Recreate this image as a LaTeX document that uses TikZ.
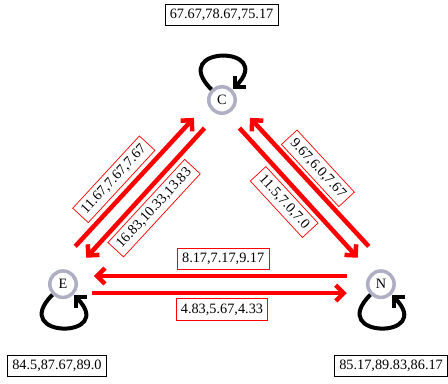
\documentclass[tikz,border=0pt]{standalone}
\usepackage{fontspec}
\setmainfont{Liberation Serif}
\usetikzlibrary{arrows.meta,calc,positioning}
\definecolor{stategray}{RGB}{175,175,195}

\begin{document}
\begin{tikzpicture}[>={Straight Barb[length=5.5pt,width=11pt]}]
	\tikzstyle{state} = [draw=stategray, circle, line width=2.45pt, fill=white, minimum size=18.5pt, inner sep=0pt]
	\tikzstyle{flow} = [->, red, line width=3.15pt]
	\tikzstyle{selfloop} = [->, black, line width=2.8pt, min distance=1.55cm]
	\tikzstyle{rate} = [draw=red, fill=white, line width=0.5pt]
	\tikzstyle{total} = [draw=black, fill=white, line width=0.6pt]

	\useasboundingbox (-1.55,-2.44) rectangle (9.47,6.99);

	\node [state] (E) at (0,0) {E};
	\node [state] (N) at (7.82,0) {N};
	\node [state] (C) at (3.91,4.53) {C};

	% self loops
	\draw [selfloop] (C) to [out=135, in=45] (C);
	\draw [selfloop] (E) to [out=-135, in=-45] (E);
	\draw [selfloop] (N) to [out=-135, in=-45] (N);

	% transitions
	\draw [flow] ($(E)+(0.30,0.93)$) -- ($(C)+(-0.69,-0.44)$);
	\draw [flow] ($(C)+(-0.43,-0.69)$) -- ($(E)+(0.57,0.65)$);
	\draw [flow] ($(N)+(-0.30,0.93)$) -- ($(C)+(0.69,-0.44)$);
	\draw [flow] ($(C)+(0.43,-0.69)$) -- ($(N)+(-0.57,0.65)$);
	\draw [flow] ($(N)+(-0.84,0.20)$) -- ($(E)+(0.76,0.20)$);
	\draw [flow] ($(E)+(0.71,-0.22)$) -- ($(N)+(-0.84,-0.22)$);

	% rates on the transitions
	\node [rate, rotate=47.3] (ec) at (1.25,2.58) {11.67,7.67,7.67};
	\node [rate, rotate=47.3] (ce) at (2.24,1.87) {16.83,10.33,13.83};
	\node [rate, rotate=-47.3] (nc) at (6.27,2.85) {9.67,6.0,7.67};
	\node [rate, rotate=-47.3] (cn) at (5.44,2.02) {11.5,7.0,7.0};
	\node [rate] (ne) at (3.94,0.62) {8.17,7.17,9.17};
	\node [rate] (en) at (3.91,-0.62) {4.83,5.67,4.33};

	% totals per state
	\node [total] (tC) at (3.90,6.62) {67.67,78.67,75.17};
	\node [total] (tE) at (-0.15,-2.02) {84.5,87.67,89.0};
	\node [total] (tN) at (8.07,-2.02) {85.17,89.83,86.17};
\end{tikzpicture}
\end{document}
